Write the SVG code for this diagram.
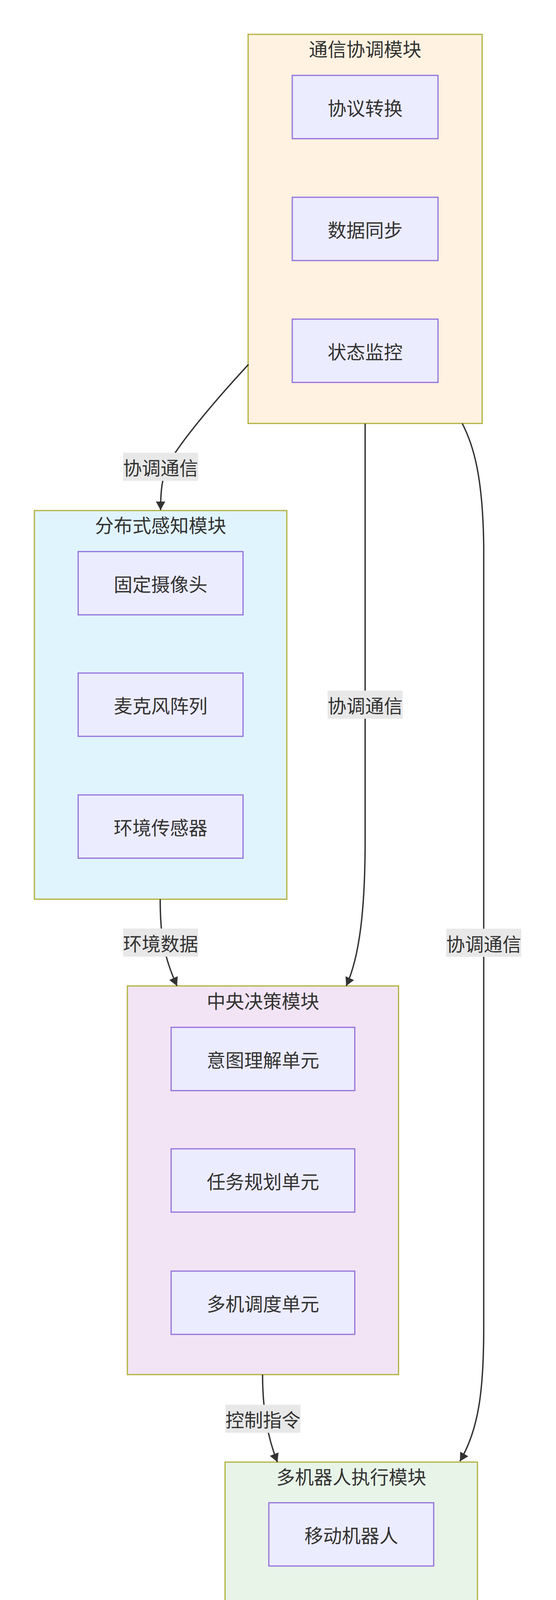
<svg xmlns="http://www.w3.org/2000/svg" width="1423" height="4827" viewBox="0 0 1423 4827">
<style>
  text { font-family: "Noto Sans CJK SC", "Noto Sans", sans-serif; fill: #333; font-size: 48px; text-anchor: middle; dominant-baseline: central; }
  .cluster { stroke: #b0b03a; stroke-width: 3; }
  .node { fill: #ececff; stroke: #9370db; stroke-width: 3; }
  .edge { fill: none; stroke: #333; stroke-width: 3.5; }
  .lbl { fill: #e8e8e8; }
  .wm { font-family: "Liberation Sans", "Noto Sans CJK SC", sans-serif; font-size: 27px; fill: #c9c9c9; text-anchor: end; dominant-baseline: alphabetic; }
</style>
<defs>
  <marker id="arrow" viewBox="0 0 22 24" refX="22" refY="12" markerUnits="userSpaceOnUse" markerWidth="22" markerHeight="24" orient="auto">
    <path d="M0,0 L22,12 L0,24 z" fill="#333"/>
  </marker>
</defs>
<rect width="1423" height="4827" fill="#ffffff"/>

<g id="comm">
  <rect class="cluster" x="635" y="88" width="599" height="996" fill="#fff2e0"/>
  <text x="934.5" y="123">通信协调模块</text>
  <g id="c1"><rect class="node" x="748" y="193" width="373" height="162"/><text x="934.5" y="274">协议转换</text></g>
  <g id="c2"><rect class="node" x="748" y="505" width="373" height="162"/><text x="934.5" y="586">数据同步</text></g>
  <g id="c3"><rect class="node" x="748" y="817" width="373" height="162"/><text x="934.5" y="898">状态监控</text></g>
</g>

<g id="perception">
  <rect class="cluster" x="88" y="1307" width="646" height="995" fill="#e0f4fd"/>
  <text x="411" y="1342">分布式感知模块</text>
  <g id="p1"><rect class="node" x="200" y="1412" width="422" height="162"/><text x="411" y="1493">固定摄像头</text></g>
  <g id="p2"><rect class="node" x="200" y="1723" width="422" height="162"/><text x="411" y="1804">麦克风阵列</text></g>
  <g id="p3"><rect class="node" x="200" y="2035" width="422" height="162"/><text x="411" y="2116">环境传感器</text></g>
</g>

<g id="central">
  <rect class="cluster" x="326" y="2524" width="694" height="995" fill="#f2e4f5"/>
  <text x="673" y="2560">中央决策模块</text>
  <g id="d1"><rect class="node" x="438" y="2630" width="470" height="162"/><text x="673" y="2711">意图理解单元</text></g>
  <g id="d2"><rect class="node" x="438" y="2941" width="470" height="162"/><text x="673" y="3022">任务规划单元</text></g>
  <g id="d3"><rect class="node" x="438" y="3254" width="470" height="162"/><text x="673" y="3335">多机调度单元</text></g>
</g>

<g id="exec">
  <rect class="cluster" x="576" y="3743" width="646" height="995" fill="#e8f4e8"/>
  <text x="899" y="3778">多机器人执行模块</text>
  <g id="r1"><rect class="node" x="688" y="3847" width="422" height="162"/><text x="899" y="3928">移动机器人</text></g>
  <g id="r2"><rect class="node" x="688" y="4159" width="422" height="162"/><text x="899" y="4240">操作机器人</text></g>
  <g id="r3"><rect class="node" x="688" y="4472" width="422" height="162"/><text x="899" y="4553">专用机器人</text></g>
</g>

<g id="connectors">
  <path class="edge" marker-end="url(#arrow)" d="M636,933 C560,1015 470,1120 432,1185 C414,1220 411,1260 411,1306"/>
  <path class="edge" marker-end="url(#arrow)" d="M934.5,1084.5 L934.5,2150 C934.5,2330 920,2450 886,2524"/>
  <path class="edge" marker-end="url(#arrow)" d="M1183,1084 C1212,1140 1236,1220 1238,1400 L1238,3400 C1238,3560 1225,3660 1177,3741"/>
  <path class="edge" marker-end="url(#arrow)" d="M410,2302 C410,2400 420,2450 453,2524"/>
  <path class="edge" marker-end="url(#arrow)" d="M672,3519 C672,3610 685,3680 710,3743"/>

  <g id="l1"><rect class="lbl" x="315" y="1159" width="192" height="72"/><text x="411" y="1195">协调通信</text></g>
  <g id="l2"><rect class="lbl" x="838.5" y="1768" width="192" height="72"/><text x="934.5" y="1804">协调通信</text></g>
  <g id="l3"><rect class="lbl" x="1142" y="2377.5" width="192" height="72"/><text x="1238" y="2413.5">协调通信</text></g>
  <g id="l4"><rect class="lbl" x="315" y="2377" width="192" height="72"/><text x="411" y="2413">环境数据</text></g>
  <g id="l5"><rect class="lbl" x="577" y="3596" width="192" height="72"/><text x="673" y="3632">控制指令</text></g>
</g>

<text class="wm" x="1418" y="4811">CSDN @程序员阿周</text>
</svg>
